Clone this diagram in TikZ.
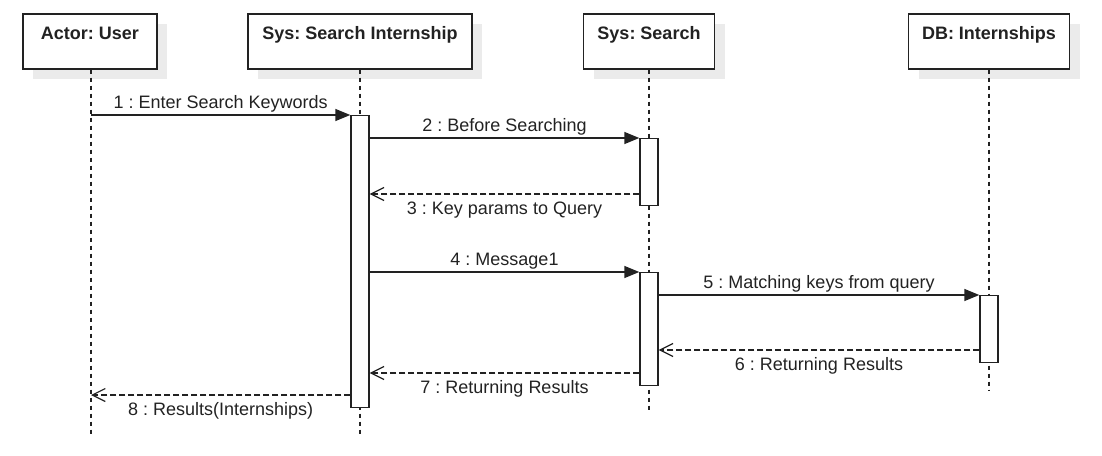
\documentclass[tikz,border=0pt]{standalone}
\usepackage{fontspec}
\setmainfont{Liberation Sans}
\usepackage{tikz}
\usetikzlibrary{arrows.meta,shadows}
\definecolor{lncol}{RGB}{34,34,34}
\frenchspacing

\begin{document}
\begin{tikzpicture}[x=1pt,y=-1pt,line join=miter,
  every node/.style={font=\fontsize{18}{21}\selectfont,text=lncol},
  head/.style={draw=lncol,line width=1.4pt,fill=white,inner sep=0pt,minimum height=55pt,text height=25pt,text depth=30pt,font=\fontsize{18}{21}\selectfont\bfseries,drop shadow={shadow xshift=10pt,shadow yshift=-10pt,fill=black!8,opacity=1}},
  act/.style={draw=lncol,line width=1.4pt,fill=white,inner sep=0pt,minimum width=18pt,anchor=north},
  life/.style={draw=lncol,line width=1.2pt,dash pattern=on 4pt off 4pt},
  call/.style={draw=lncol,line width=1.4pt,-{Triangle[length=15pt,width=12pt]}},
  ret/.style={draw=lncol,line width=1.2pt,dash pattern=on 6pt off 3pt,-{Straight Barb[length=13pt,width=13pt,line width=1.2pt]}},
  msgup/.style={anchor=base,yshift=7pt},
  msgdn/.style={anchor=base,yshift=-20pt}]
\useasboundingbox (0,0) rectangle (1102,455);

\node[head,minimum width=134pt] (user) at (90,41.5) {Actor: User};
\node[head,minimum width=224pt] (sis) at (360,41.5) {Sys: Search Internship};
\node[head,minimum width=131pt] (srch) at (649,41.5) {Sys: Search};
\node[head,minimum width=161pt] (db) at (989,41.5) {DB: Internships};

\coordinate (userend) at (91,436);
\coordinate (sisend) at (360,436);
\coordinate (srchend) at (649,412);
\coordinate (dbend) at (989,391);
\draw[life] (userend |- user.south) -- (userend);
\draw[life] (sis.south) -- (sisend);
\draw[life] (srch.south) -- (srchend);
\draw[life] (db.south) -- (dbend);

\node[act,minimum height=292pt] (a1) at (360,115) {};
\node[act,minimum height=67pt] (a2) at (649,138) {};
\node[act,minimum height=113pt] (a3) at (649,272) {};
\node[act,minimum height=67pt] (a4) at (989,295) {};

\coordinate (m1) at (0,115);
\coordinate (m2) at (0,138);
\coordinate (m3) at (0,194);
\coordinate (m4) at (0,272);
\coordinate (m5) at (0,295);
\coordinate (m6) at (0,350);
\coordinate (m7) at (0,373);
\coordinate (m8) at (0,395);

\draw[call] (userend |- m1) -- (a1.west |- m1) node[midway,msgup] {1 : Enter Search Keywords};
\draw[call] (a1.east |- m2) -- (a2.west |- m2) node[midway,msgup] {2 : Before Searching};
\draw[ret] (a2.west |- m3) -- (a1.east |- m3) node[midway,msgdn] {3 : Key params to Query};
\draw[call] (a1.east |- m4) -- (a3.west |- m4) node[midway,msgup] {4 : Message1};
\draw[call] (a3.east |- m5) -- (a4.west |- m5) node[midway,msgup] {5 : Matching keys from query};
\draw[ret] (a4.west |- m6) -- (a3.east |- m6) node[midway,msgdn] {6 : Returning Results};
\draw[ret] (a3.west |- m7) -- (a1.east |- m7) node[midway,msgdn] {7 : Returning Results};
\draw[ret] (a1.west |- m8) -- (userend |- m8) node[midway,msgdn] {8 : Results(Internships)};
\end{tikzpicture}
\end{document}
